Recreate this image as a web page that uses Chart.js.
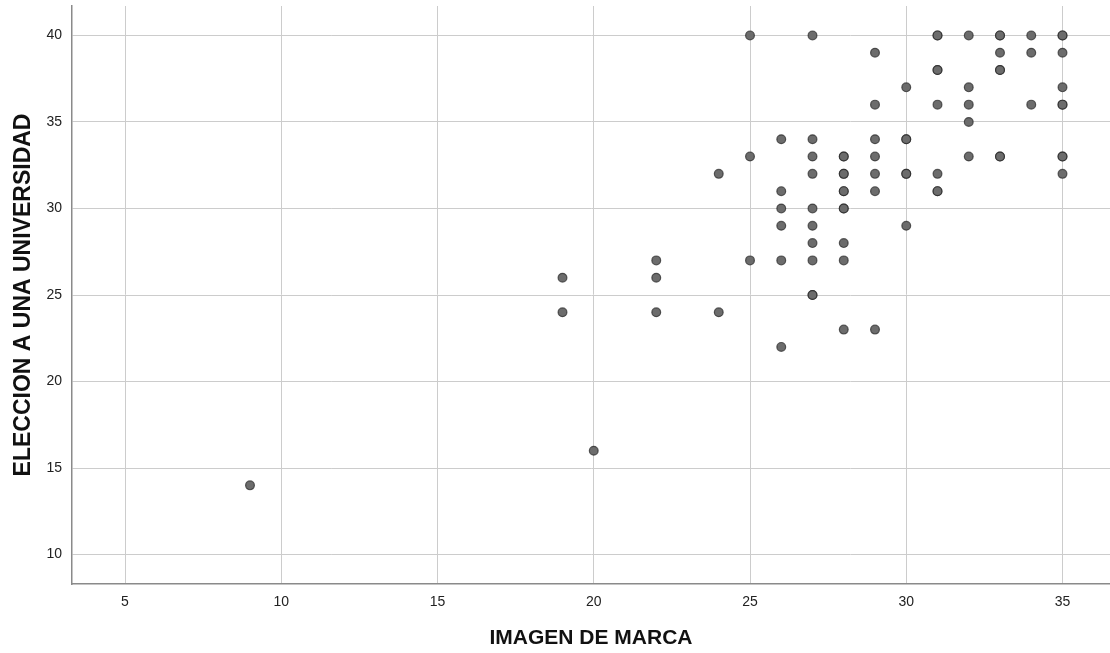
<!DOCTYPE html>
<html>
<head>
<meta charset="utf-8">
<script src="https://cdn.jsdelivr.net/npm/chart.js@4.4.1/dist/chart.umd.min.js"></script>
<style>
html,body{margin:0;padding:0;background:#fff;}
#wrap{width:1110px;height:653px;}
</style>
</head>
<body>
<div id="wrap"><canvas id="c" width="1110" height="653"></canvas></div>
<script>
// IMAGEN DE MARCA (x) and ELECCION A UNA UNIVERSIDAD (y)
const imagenMarca = [9,19,19,20,22,22,22,24,24,25,25,25,
  26,26,26,26,26,26,
  27,27,27,27,27,27,27,27,27,27,
  28,28,28,28,28,28,28,28,28,28,28,
  29,29,29,29,29,29,29,
  30,30,30,30,30,30,
  31,31,31,31,31,31,31,31,
  32,32,32,32,32,
  33,33,33,33,33,33,33,
  34,34,34,
  35,35,35,35,35,35,35,35,35];
const eleccionUniversidad = [14,26,24,16,27,26,24,32,24,40,33,27,
  34,31,30,29,27,22,
  40,34,33,32,30,29,28,27,25,25,
  33,32,32,31,31,30,30,28,27,23,33,
  39,36,34,33,32,31,23,
  37,34,34,32,32,29,
  40,40,38,38,36,32,31,31,
  40,37,36,35,33,
  40,40,39,38,38,33,33,
  40,39,36,
  40,40,39,37,36,36,33,33,32];
const xTicks = [5,10,15,20,25,30,35];
const yTicks = [10,15,20,25,30,35,40];
const xTitle = 'IMAGEN DE MARCA';
const yTitle = 'ELECCION A UNA UNIVERSIDAD';

const points = imagenMarca.map((x,i)=>({x:x,y:eleccionUniversidad[i]}));

new Chart(document.getElementById('c'), {
  type: 'scatter',
  data: { datasets: [{
    data: points,
    backgroundColor: '#6c6c6c',
    borderColor: 'rgba(35,35,35,0.7)',
    borderWidth: 1.2,
    pointRadius: 4.4,
    pointHoverRadius: 4.4
  }]},
  options: {
    responsive: false,
    animation: false,
    events: [],
    layout: { autoPadding: false, padding: { top: 6, right: 0, left: 0, bottom: 0 } },
    plugins: { legend: { display: false }, tooltip: { enabled: false } },
    scales: {
      x: {
        type: 'linear',
        min: 3.304, max: 36.52,
        afterBuildTicks: s => { s.ticks = xTicks.map(v=>({value:v})); },
        afterFit: s => { s.height = 69; s.paddingLeft = 0; s.paddingRight = 0; },
        grid: { color: '#cccccc', lineWidth: 1, drawTicks: false },
        border: { display: true, color: '#8a8a8a', width: 1.5 },
        ticks: { font: { family: 'Liberation Sans', size: 14 }, color: '#222', padding: 10, maxRotation: 0 },
        title: { display: true, text: xTitle, font: { family: 'Liberation Sans', size: 21, weight: 'bold' }, color: '#111', padding: { top: 8, bottom: 2 } }
      },
      y: {
        type: 'linear',
        min: 8.3, max: 41.7,
        afterBuildTicks: s => { s.ticks = yTicks.map(v=>({value:v})); },
        afterFit: s => { s.width = 72; s.paddingTop = 0; s.paddingBottom = 0; },
        grid: { color: '#cccccc', lineWidth: 1, drawTicks: false },
        border: { display: true, color: '#8a8a8a', width: 1.5 },
        ticks: { font: { family: 'Liberation Sans', size: 14 }, color: '#222', padding: 10 },
        title: { display: true, text: yTitle, font: { family: 'Liberation Sans', size: 23, weight: 'bold' }, color: '#111', padding: { top: 10, bottom: 0 } }
      }
    }
  }
});
</script>
</body>
</html>
